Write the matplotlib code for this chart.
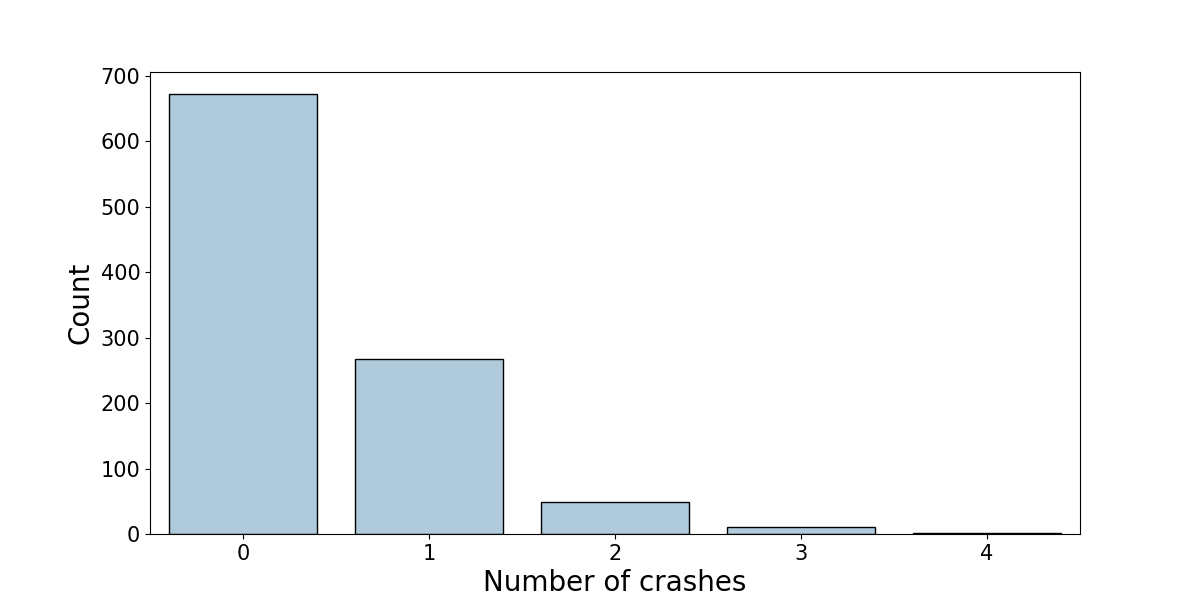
import matplotlib
matplotlib.use("Agg")
import matplotlib.pyplot as plt

categories = ["0", "1", "2", "3", "4"]
counts = [672, 267, 49, 10, 2]

fig, ax = plt.subplots(figsize=(12, 6), dpi=100)
ax.bar(categories, counts, width=0.8, color="#aecadb", edgecolor="black", linewidth=1)
ax.set_xlim(-0.5, len(categories) - 0.5)
ax.set_xlabel("Number of crashes", fontsize=20)
ax.set_ylabel("Count", fontsize=20)
ax.tick_params(axis="both", labelsize=15)
fig.savefig("out.png")
